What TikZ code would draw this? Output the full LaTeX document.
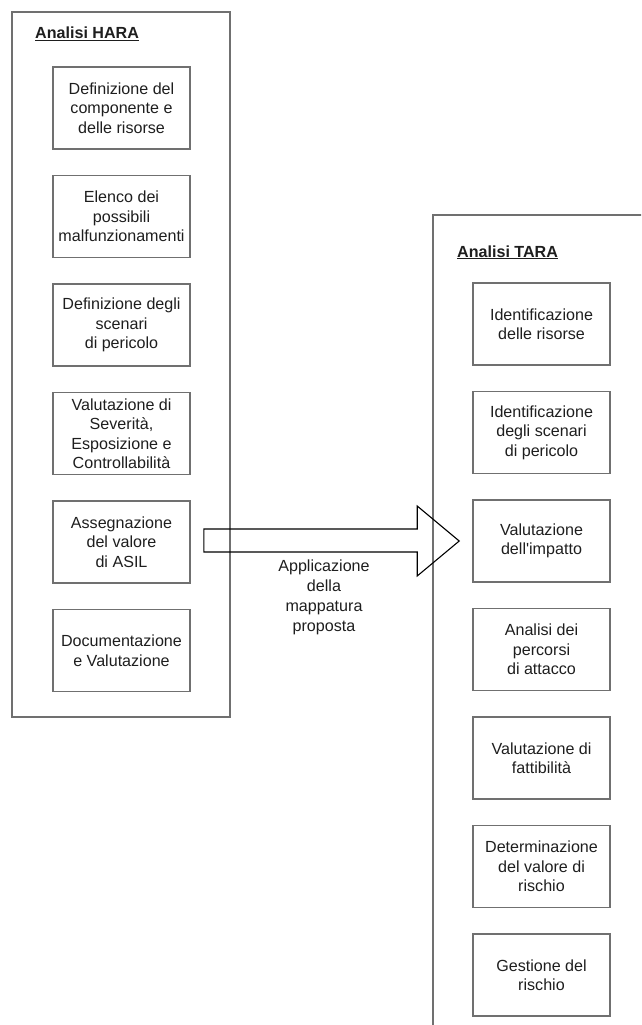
\documentclass[tikz,border=0pt]{standalone}
\usepackage{fontspec}
\setmainfont{Liberation Sans}
\usetikzlibrary{calc}
\definecolor{bordergray}{HTML}{707070}
\definecolor{txt}{HTML}{1E1E1E}
\begin{document}
\begin{tikzpicture}[x=1pt,y=-1pt,
  container/.style={draw=bordergray,line width=1.6pt},
  stepbox/.style={draw=bordergray,line width=1.6pt,minimum width=137pt,minimum height=82pt,
    inner sep=0pt,align=center,text=txt,font=\fontsize{16.1}{19.5}\selectfont},
  titlelbl/.style={anchor=base west,inner sep=0pt,text=txt,font=\fontsize{16.1}{19.5}\selectfont\bfseries},
  plainlbl/.style={align=center,inner sep=0pt,text=txt,font=\fontsize{16.1}{20}\selectfont},
  blockarrow/.style={draw=black,line width=1.1pt,line join=miter}]
\useasboundingbox (0,0) rectangle (641,1025);
\clip (0,0) rectangle (641,1025);
% containers
\draw[container] (12,12) rectangle (230,717);
\draw[container] (433,215) rectangle (680,1060);
\node[titlelbl] (th) at (35,39) {\underline{Analisi HARA}};
\node[titlelbl] (tt) at (457,257) {\underline{Analisi TARA}};
% HARA steps
\node[stepbox] (L1) at (121.5,108) {Definizione del\\componente e\\delle risorse};
\node[stepbox] (L2) at (121.5,216.5) {Elenco dei\\possibili\\malfunzionamenti};
\node[stepbox] (L3) at (121.5,325) {Definizione degli\\scenari\\di pericolo};
\node[stepbox] (L4) at (121.5,433.5) {Valutazione di\\Severità,\\Esposizione e\\Controllabilità};
\node[stepbox] (L5) at (121.5,542) {Assegnazione\\del valore\\di ASIL};
\node[stepbox] (L6) at (121.5,650.5) {Documentazione\\e Valutazione};
% TARA steps
\node[stepbox] (R1) at (541.5,324) {Identificazione\\delle risorse};
\node[stepbox] (R2) at (541.5,432.5) {Identificazione\\degli scenari\\di pericolo};
\node[stepbox] (R3) at (541.5,541) {Valutazione\\dell\textquotesingle impatto};
\node[stepbox] (R4) at (541.5,649.5) {Analisi dei\\percorsi\\di attacco};
\node[stepbox] (R5) at (541.5,758) {Valutazione di\\fattibilità};
\node[stepbox] (R6) at (541.5,866.5) {Determinazione\\del valore di\\rischio};
\node[stepbox] (R7) at (541.5,975) {Gestione del\\rischio};
% block arrow from L5 to R3
\coordinate (tail) at ($(L5.east)+(13,-1.5)$);
\coordinate (tip) at ($(R3.west)+(-13,0)$);
\draw[blockarrow] ($(tail)+(0,-11.5)$) -- ($(tip|-tail)+(-42,-11.5)$) -- ($(tip)+(-42,-35)$)
  -- (tip) -- ($(tip)+(-42,35)$) -- ($(tip|-tail)+(-42,11.5)$) -- ($(tail)+(0,11.5)$) -- cycle;
\node[plainlbl] (lab) at (324,597) {Applicazione\\della\\mappatura\\proposta};
\end{tikzpicture}
\end{document}
